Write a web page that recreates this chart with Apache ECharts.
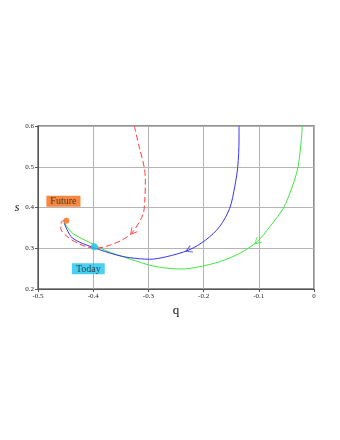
<!DOCTYPE html>
<html>
<head>
<meta charset="utf-8">
<script src="https://cdn.jsdelivr.net/npm/echarts@6/dist/echarts.min.js"></script>
<style>
  html, body { margin: 0; padding: 0; background: #fff; }
  #main { width: 340px; height: 440px; }
</style>
</head>
<body>
<div id="main"></div>
<script>
// trajectories in the (q, s) plane, top end first
var blueCurve = [
  [-0.1358, 0.600], [-0.1358, 0.566], [-0.1382, 0.499], [-0.1436, 0.451],
  [-0.1527, 0.398], [-0.1710, 0.353], [-0.1964, 0.320], [-0.2267, 0.2957],
  [-0.2679, 0.279], [-0.2980, 0.273], [-0.3345, 0.277], [-0.3590, 0.284],
  [-0.4000, 0.302], [-0.4376, 0.325], [-0.4527, 0.362]
];
var greenCurve = [
  [-0.0213, 0.600], [-0.0230, 0.566], [-0.0290, 0.499], [-0.0394, 0.451],
  [-0.0558, 0.398], [-0.0800, 0.353], [-0.1030, 0.316], [-0.1345, 0.2875],
  [-0.1710, 0.267], [-0.2073, 0.2548], [-0.2376, 0.249], [-0.2860, 0.2548],
  [-0.3345, 0.274], [-0.3770, 0.294], [-0.4000, 0.310], [-0.4376, 0.337],
  [-0.4527, 0.364]
];
var redCurve = [
  [-0.3255, 0.600], [-0.3164, 0.547], [-0.3073, 0.497], [-0.3055, 0.464],
  [-0.3067, 0.415], [-0.3100, 0.382], [-0.3285, 0.340], [-0.3467, 0.321],
  [-0.3710, 0.307], [-0.3950, 0.300], [-0.4190, 0.307], [-0.4436, 0.325],
  [-0.4588, 0.349], [-0.4570, 0.366], [-0.4485, 0.3676]
];
// where the direction arrows sit: [curve, index of point]
var arrowAt = [['red', 6], ['blue', 7], ['green', 6]];
var futurePoint = [-0.4485, 0.3676];
var todayPoint = [-0.398, 0.3035];
var xTicks = [-0.5, 0];
var yTicks = [0.2, 0.6];

var curves = { red: redCurve, blue: blueCurve, green: greenCurve };
var colors = { red: '#ff3b3b', blue: '#3535f5', green: '#3ee83e' };
var serif = '"Liberation Serif", "DejaVu Serif", serif';

var chart = echarts.init(document.getElementById('main'));

function lineSeries(name, type) {
  return {
    type: 'line', data: curves[name], smooth: 0.3, showSymbol: false,
    lineStyle: { color: colors[name], width: 1, type: type }, z: 3
  };
}

var option = {
  animation: false,
  grid: {
    left: 38, right: 26, top: 126, bottom: 151,
    show: true, borderColor: '#6e6e6e', borderWidth: 1.5, backgroundColor: 'transparent'
  },
  xAxis: {
    type: 'value', min: xTicks[0], max: xTicks[1], interval: 0.1,
    name: 'q', nameLocation: 'middle', nameGap: 15,
    nameTextStyle: { fontFamily: serif, fontSize: 13, color: '#111' },
    axisLine: { onZero: false, lineStyle: { color: '#555', width: 1 } },
    axisTick: { length: 3, lineStyle: { color: '#555' } },
    axisLabel: { fontFamily: serif, fontSize: 7, color: '#222', margin: 4,
      formatter: function (v) { return v === 0 ? '0' : v.toFixed(1); } },
    splitLine: { lineStyle: { color: '#b4b4b4', width: 1 } }
  },
  yAxis: {
    type: 'value', min: yTicks[0], max: yTicks[1], interval: 0.1,
    name: 's', nameLocation: 'middle', nameGap: 14, nameRotate: 0,
    nameTextStyle: { fontFamily: serif, fontSize: 12, fontStyle: 'italic', color: '#111' },
    axisLine: { onZero: false, lineStyle: { color: '#555', width: 1 } },
    axisTick: { length: 3, lineStyle: { color: '#555' } },
    axisLabel: { fontFamily: serif, fontSize: 7, color: '#222', margin: 4,
      formatter: function (v) { return v.toFixed(1); } },
    splitLine: { lineStyle: { color: '#b4b4b4', width: 1 } }
  },
  series: [
    lineSeries('green', 'solid'),
    lineSeries('blue', 'solid'),
    lineSeries('red', [6, 3]),
    {
      type: 'scatter', id: 'arrows', z: 4,
      symbol: 'path://M0,0 L5,8 L10,0', symbolSize: [7, 6],
      data: arrowAt.map(function (a) {
        return { value: curves[a[0]][a[1]],
          itemStyle: { color: 'transparent', borderColor: colors[a[0]], borderWidth: 1 } };
      })
    },
    {
      type: 'scatter', z: 5, symbolSize: 6,
      data: [{ value: futurePoint, itemStyle: { color: '#f26b12' },
        label: { show: true, formatter: 'Future', position: 'top', offset: [-3, -6],
          fontFamily: serif, fontSize: 10, color: '#222', backgroundColor: '#f26b12',
          padding: [1, 4, 0, 4] } },
        { value: todayPoint, itemStyle: { color: '#1cc4f0' }, symbolSize: 7,
          label: { show: true, formatter: 'Today', position: 'bottom', offset: [-6, 8],
            fontFamily: serif, fontSize: 10, color: '#222', backgroundColor: '#1cc4f0',
            padding: [1, 4, 0, 4] } }]
    }
  ]
};
chart.setOption(option);

// orient the arrows along the direction of travel, using the axis scales
var rotated = arrowAt.map(function (a) {
  var c = curves[a[0]];
  var p0 = chart.convertToPixel({ gridIndex: 0 }, c[a[1] - 1]);
  var p1 = chart.convertToPixel({ gridIndex: 0 }, c[a[1] + 1]);
  var theta = Math.atan2(p1[1] - p0[1], p1[0] - p0[0]) * 180 / Math.PI;
  return { value: c[a[1]], symbolRotate: 90 - theta,
    itemStyle: { color: 'transparent', borderColor: colors[a[0]], borderWidth: 1 } };
});
chart.setOption({ series: [{ id: 'arrows', data: rotated }] });
</script>
</body>
</html>
